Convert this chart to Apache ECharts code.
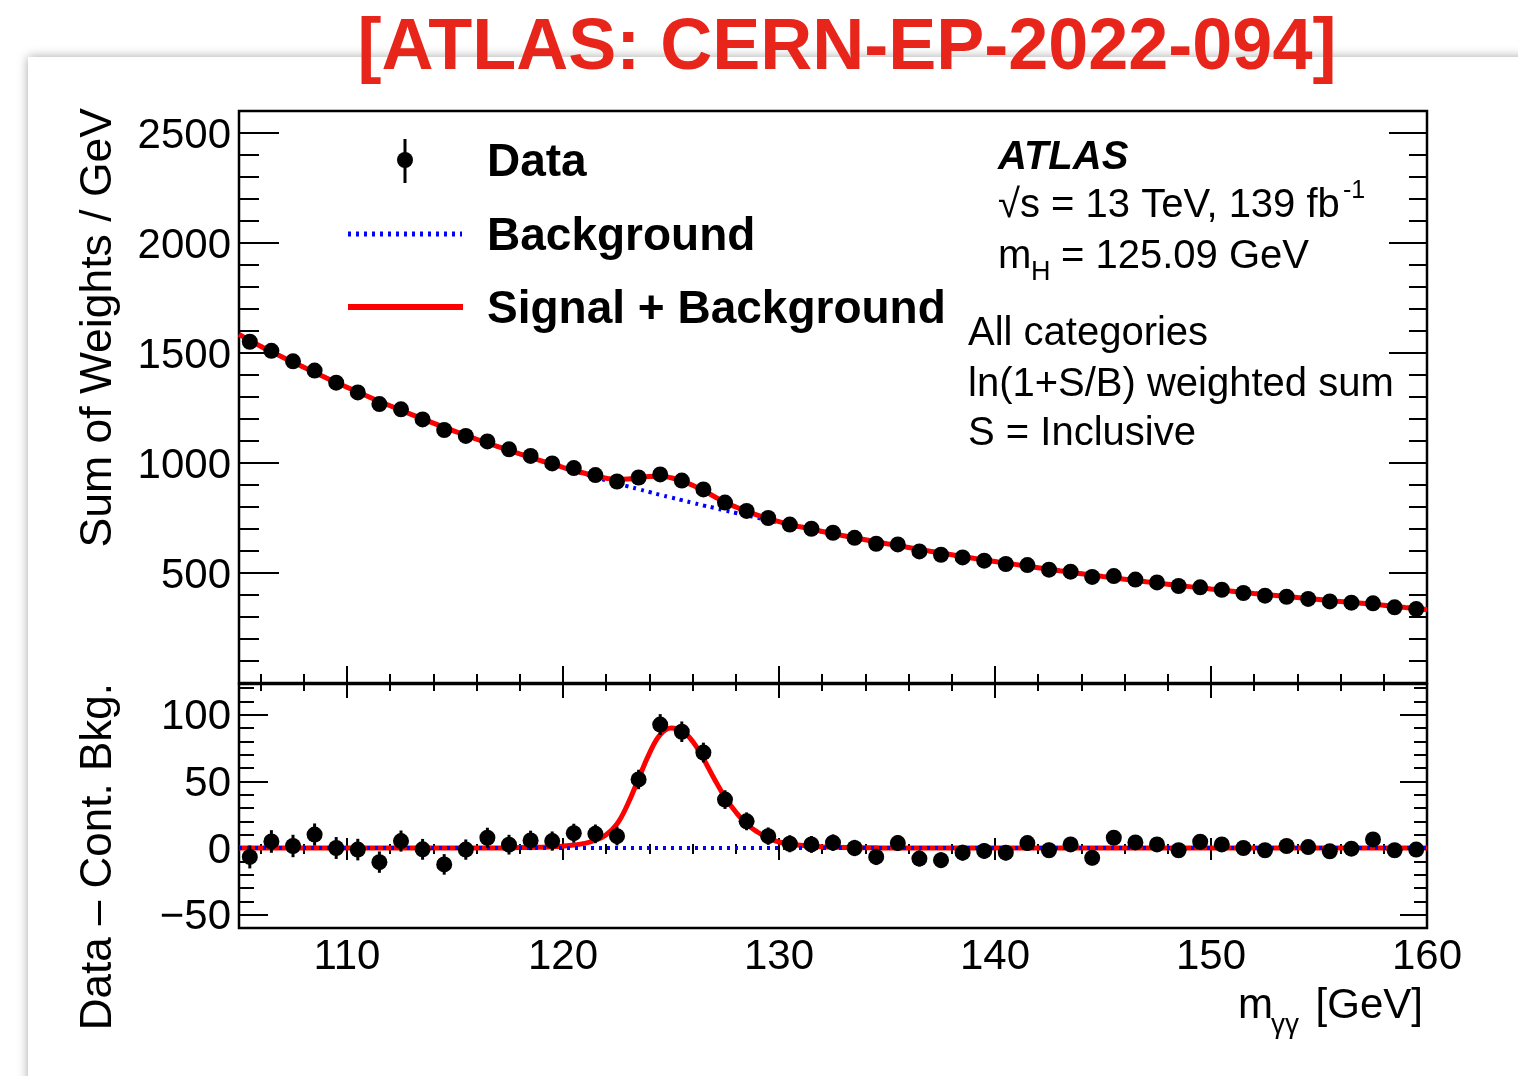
<!DOCTYPE html>
<html><head><meta charset="utf-8">
<script src="https://cdn.jsdelivr.net/npm/echarts@6/dist/echarts.min.js"></script>
<style>html,body{margin:0;padding:0;background:#fff;}#c{width:1518px;height:1076px;}</style>
</head><body><div id="c"></div>
<script>
// ---- data ----
const massBins = [105.5,106.5,107.5,108.5,109.5,110.5,111.5,112.5,113.5,114.5,
  115.5,116.5,117.5,118.5,119.5,120.5,121.5,122.5,123.5,124.5,
  125.5,126.5,127.5,128.5,129.5,130.5,131.5,132.5,133.5,134.5,
  135.5,136.5,137.5,138.5,139.5,140.5,141.5,142.5,143.5,144.5,
  145.5,146.5,147.5,148.5,149.5,150.5,151.5,152.5,153.5,154.5,
  155.5,156.5,157.5,158.5,159.5];
const dataSum = [1551,1510,1462,1420,1365,1321,1268,1244,1198,1150,
  1123,1098,1062,1032,998,977,945,916,934,948,
  920,880,820,782,750,720,701,683,660,633,
  630,598,583,571,556,541,536,515,506,482,
  486,470,457,441,435,424,409,397,392,382,
  371,365,362,344,336];
const dataResid = [-6.7,4.9,1.5,10.1,0,-1.2,-10.6,5.2,-1,-12.3,
  -1.2,7.7,2.5,5.7,5.2,11.1,10.6,8.9,51.4,92.6,
  87.2,71.6,36.3,20,8.9,3.2,2.7,4,0,-6.7,
  3.7,-7.9,-9.1,-3.5,-2.2,-3.5,3.7,-1.7,2.7,-7.4,
  7.7,4.2,2.7,-1.7,4.7,2.7,0,-1.7,1.5,0.7,
  -2.5,-0.5,6.4,-1.7,-1.2];
const dataErr = [8.6,8.5,8.4,8.3,8.2,8.1,8.0,7.9,7.8,7.7,
  7.6,7.5,7.4,7.3,7.2,7.1,7.0,7.0,7.3,7.8,
  7.7,7.4,7.0,6.7,6.5,6.4,6.3,6.2,6.1,6.1,
  6.0,6.0,5.9,5.9,5.8,5.8,5.7,5.7,5.6,5.6,
  5.5,5.5,5.5,5.4,5.4,5.3,5.3,5.3,5.2,5.2,
  5.2,5.1,5.1,5.1,5.0];
const curveMass = [105,106,107,108,109,110,111,112,113,114,115,116,117,
  118,118.5,119,119.5,120,120.5,121,121.5,122,122.5,123,123.5,124,124.5,125,125.5,
  126,126.5,127,127.5,128,128.5,129,129.5,130,130.5,131,131.5,132,132.5,133,133.5,134,134.5,135,
  136,137,138,139,140,141,142,143,144,145,146,147,148,149,150,151,152,153,154,155,156,157,158,159,160];
const bkgCurve = [1585,1531,1482,1435,1389,1344,1301,1260,1220,1181,1144,1108,1074,
  1041,1025,1009,994,979,964,950,935,921,907,894,881,868,855,843,831,
  819,807,796,784,773,762,751,740,729,718,708,698,688,678,669,660,651,642,633,
  616,599,583,567,552,538,524,510,497,484,472,460,449,438,427,417,407,398,389,380,370,362,353,343,334];
const sigCurve = [0,0,0,0,0,0,0,0,0,0,0,0,0,
  0.3,0.4,0.6,0.9,1.4,2.2,3.5,5.8,10,18,33,52,71,85,90,88,
  80,67,52,38,27,18,12,7.5,4.5,3,2,1.3,0.9,0.6,0.4,0.3,0.2,0.1,0,
  0,0,0,0,0,0,0,0,0,0,0,0,0,0,0,0,0,0,0,0,0,0,0,0,0];
const legendNames = ['Data','Background','Signal + Background'];
const infoLines = ['All categories','ln(1+S/B) weighted sum','S = Inclusive'];

// ---- chart ----
const FONT = '"Liberation Sans", Arial, Helvetica, sans-serif';
const chart = echarts.init(document.getElementById('c'), null, {renderer:'canvas', width:1518, height:1076});

function tickCfg(len, minorLen){
  return {
    axisTick:{show:true, inside:true, length:len, lineStyle:{color:'#000', width:2}},
    minorTick:{show:true, splitNumber:5, length:minorLen, lineStyle:{color:'#000', width:2}}
  };
}
const minusFmt = v => String(v).replace('-', '\u2212');
function xAx(gi, pos, len, mlen, labels){
  return Object.assign({gridIndex:gi, type:'value', min:105, max:160, position:pos,
    axisLine:{show:false}, splitLine:{show:false}, minorSplitLine:{show:false},
    axisLabel: labels ? {show:true, fontSize:42, color:'#000', fontFamily:FONT, margin:8,
      showMinLabel:false, showMaxLabel:true, formatter:minusFmt} : {show:false}
  }, tickCfg(len, mlen));
}
function yAx(gi, pos, len, mlen, labels, extra){
  return Object.assign({gridIndex:gi, type:'value', position:pos,
    axisLine:{show:false}, splitLine:{show:false}, minorSplitLine:{show:false},
    axisLabel: labels ? {show:true, fontSize:42, color:'#000', fontFamily:FONT, margin:8,
      verticalAlign:'top', lineHeight:6, showMinLabel:false, showMaxLabel:false, formatter:minusFmt} : {show:false}
  }, tickCfg(len, mlen), extra);
}

const upperRange = {min:0, max:2600, interval:500};
const lowerRange = {min:-60, max:123, splitNumber:4};

const toPairs = (xs, ys) => xs.map((x,i)=>[x, ys[i]]);
const sbCurve = curveMass.map((m,i)=>[m, bkgCurve[i] + sigCurve[i]]);
const zeroCurve = curveMass.map((m,i)=>[m, bkgCurve[i] - bkgCurve[i]]);

function errRender(params, api){
  const x = api.value(0);
  const p1 = api.coord([x, api.value(1)]);
  const p2 = api.coord([x, api.value(2)]);
  return {type:'line', shape:{x1:p1[0], y1:p1[1], x2:p2[0], y2:p2[1]},
    style:{stroke:'#000', lineWidth:3}};
}
const errData = (vals) => massBins.map((m,i)=>[m, vals[i]-dataErr[i], vals[i]+dataErr[i]]);

const blueStyle = {color:'#0000ff', width:4, type:[3,5]};
const redStyle = {color:'#ff0000', width:5};

const txt = (x, y, text, size, extra) => ({type:'text', x:x, y:y, z:100,
  style:Object.assign({text:text, fill:'#000', fontSize:size, fontFamily:FONT, align:'left', verticalAlign:'middle'}, extra||{})});

const option = {
  animation:false,
  backgroundColor:'#ffffff',
  grid:[
    {left:239, top:111, width:1188, height:572, show:true, borderColor:'#000', borderWidth:2.5, backgroundColor:'transparent', containLabel:false, outerBoundsMode:'none'},
    {left:239, top:684, width:1188, height:244, show:true, borderColor:'#000', borderWidth:2.5, backgroundColor:'transparent', containLabel:false, outerBoundsMode:'none'}
  ],
  xAxis:[
    xAx(0,'bottom',17,9,false),
    xAx(0,'top',15,8,false),
    xAx(1,'bottom',10,4,true),
    xAx(1,'top',12,6,false)
  ],
  yAxis:[
    yAx(0,'left',40,20,true,upperRange),
    yAx(0,'right',38,18,false,upperRange),
    yAx(1,'left',29,15,true,lowerRange),
    yAx(1,'right',27,13,false,lowerRange)
  ],
  series:[
    {name:legendNames[1], type:'line', xAxisIndex:0, yAxisIndex:0, data:toPairs(curveMass,bkgCurve),
      showSymbol:false, symbol:'none', lineStyle:blueStyle, z:2, smooth:0.4},
    {name:legendNames[2], type:'line', xAxisIndex:0, yAxisIndex:0, data:sbCurve,
      showSymbol:false, symbol:'none', lineStyle:redStyle, z:3, smooth:0.4},
    {name:legendNames[0]+' errors', type:'custom', xAxisIndex:0, yAxisIndex:0, renderItem:errRender,
      data:errData(dataSum), encode:{x:0, y:[1,2]}, z:4},
    {name:legendNames[0], type:'scatter', xAxisIndex:0, yAxisIndex:0, data:toPairs(massBins,dataSum),
      symbol:'circle', symbolSize:16, itemStyle:{color:'#000', opacity:1}, z:5},

    {name:'Signal', type:'line', xAxisIndex:2, yAxisIndex:2, data:toPairs(curveMass,sigCurve),
      showSymbol:false, symbol:'none', lineStyle:redStyle, z:2, smooth:0.4},
    {name:'Background (subtracted)', type:'line', xAxisIndex:2, yAxisIndex:2, data:zeroCurve,
      showSymbol:false, symbol:'none', lineStyle:blueStyle, z:3},
    {name:'Residual errors', type:'custom', xAxisIndex:2, yAxisIndex:2, renderItem:errRender,
      data:errData(dataResid), encode:{x:0, y:[1,2]}, z:4},
    {name:'Data - Cont. Bkg.', type:'scatter', xAxisIndex:2, yAxisIndex:2, data:toPairs(massBins,dataResid),
      symbol:'circle', symbolSize:16, itemStyle:{color:'#000', opacity:1}, z:5}
  ],
  graphic:{elements:[
    {type:'rect', z:-100, shape:{x:28, y:57, width:1520, height:1040},
      style:{fill:'#fff', shadowBlur:10, shadowColor:'rgba(0,0,0,0.35)', shadowOffsetX:0, shadowOffsetY:0}},
    {type:'text', x:847, y:49, z:100, style:{text:'[ATLAS: CERN-EP-2022-094]', fill:'#e8251b',
      fontSize:72, fontWeight:'bold', fontFamily:FONT, align:'center', verticalAlign:'middle'}},
    // legend
    {type:'line', z:100, shape:{x1:405, y1:139, x2:405, y2:183}, style:{stroke:'#000', lineWidth:3}},
    {type:'circle', z:100, shape:{cx:405, cy:160, r:8}, style:{fill:'#000'}},
    txt(487, 163, legendNames[0], 46, {fontWeight:'bold'}),
    {type:'line', z:100, shape:{x1:348, y1:234, x2:462, y2:234}, style:{stroke:'#0000ff', lineWidth:5, lineDash:[3,5]}},
    txt(487, 237, legendNames[1], 46, {fontWeight:'bold'}),
    {type:'line', z:100, shape:{x1:348, y1:307, x2:463, y2:307}, style:{stroke:'#ff0000', lineWidth:6}},
    txt(487, 310, legendNames[2], 46, {fontWeight:'bold'}),
    // ATLAS label block
    txt(998, 158, 'ATLAS', 40, {fontWeight:'bold', fontStyle:'italic'}),
    txt(998, 206, '\u221As = 13 TeV, 139 fb', 40),
    txt(1343, 191, '-1', 25),
    txt(998, 257, 'm', 40),
    txt(1031, 273, 'H', 27),
    txt(1061, 257, '= 125.09 GeV', 40),
    txt(968, 334, infoLines[0], 40),
    txt(968, 385, infoLines[1], 40),
    txt(968, 434, infoLines[2], 40),
    // axis titles
    {type:'text', x:99, y:108, rotation:Math.PI/2, z:100, style:{text:'Sum of Weights / GeV', fill:'#000',
      fontSize:44.5, fontFamily:FONT, align:'right', verticalAlign:'middle'}},
    {type:'text', x:99, y:683, rotation:Math.PI/2, z:100, style:{text:'Data \u2013 Cont. Bkg.', fill:'#000',
      fontSize:44, fontFamily:FONT, align:'right', verticalAlign:'middle'}},
    txt(1238, 1006, 'm', 42),
    txt(1271, 1025, '\u03B3\u03B3', 28),
    txt(1423, 1006, '[GeV]', 42, {align:'right'})
  ]}
};
chart.setOption(option);
</script>
</body></html>
